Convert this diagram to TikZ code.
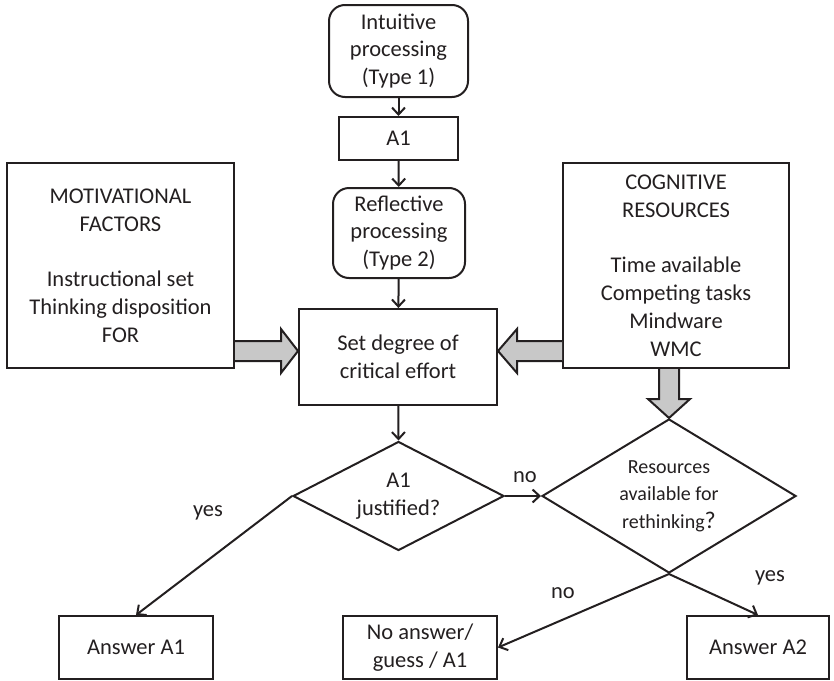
\documentclass[tikz,border=0pt]{standalone}
\usepackage{fontspec}
\setmainfont{Carlito}
\usetikzlibrary{arrows.meta,shapes.geometric}
\definecolor{ink}{HTML}{231F20}
\definecolor{arrowgray}{HTML}{C8C8C8}
\tikzset{
  box/.style={draw=ink, line width=2pt, text=ink, align=center, inner sep=0pt,
    font=\fontsize{22.5}{27.8}\selectfont},
  rbox/.style={box, rounded corners=16pt},
  decision/.style={draw=ink, line width=2pt, diamond, inner sep=0pt},
  dtext/.style={text=ink, align=center, inner sep=0pt, font=\fontsize{22.5}{27.8}\selectfont},
  lbl/.style={text=ink, inner sep=0pt, font=\fontsize{22.5}{27.8}\selectfont},
  conn/.style={draw=ink, line width=2pt, -{Straight Barb[length=7pt,width=13pt]}},
  blockarrow/.style={draw=ink, line width=2pt, fill=arrowgray, line join=miter},
}
\begin{document}
\begin{tikzpicture}[x=1pt,y=-1pt]
\useasboundingbox (0,0) rectangle (834,680);

\node[rbox, minimum width=139pt, minimum height=92pt] (intu) at (398.5,51) {Intuitive\\processing\\(Type 1)};
\node[box, minimum width=119pt, minimum height=43pt] (a1) at (398.5,138.5) {A1};
\node[rbox, minimum width=132pt, minimum height=90pt] (refl) at (399,233) {Reflective\\processing\\(Type 2)};
\node[box, minimum width=198pt, minimum height=96pt] (sd) at (398,357) {Set degree of\\critical effort};

\node[box, minimum width=227pt, minimum height=205pt] (mot) at (120.5,265.5) {MOTIVATIONAL\\FACTORS\\[27.8pt]Instructional set\\Thinking disposition\\FOR};
\node[box, minimum width=226pt, minimum height=205pt] (cog) at (676,265.5) {COGNITIVE\\RESOURCES\\[27.8pt]Time available\\Competing tasks\\Mindware\\WMC};

\node[decision, minimum width=211pt, minimum height=109pt] (a1d) at (398.5,496) {};
\node[dtext] (a1dt) at (a1d.center) {A1\\justified?};
\node[decision, minimum width=254pt, minimum height=154pt] (res) at (669,496) {};
\node[dtext, font=\fontsize{20}{27.5}\selectfont] (rest) at (res.center) {Resources\\available for\\rethinking\fontsize{24}{27.5}\selectfont?};

\node[box, minimum width=154pt, minimum height=63pt] (ans1) at (136,647.5) {Answer A1};
\node[box, minimum width=154pt, minimum height=63pt] (noans) at (420,647.5) {No answer/\\guess / A1};
\node[box, minimum width=142pt, minimum height=63pt] (ans2) at (758,647.5) {Answer A2};

% connectors
\draw[conn] (intu) -- (a1);
\draw[conn] (a1) -- (refl);
\draw[conn] (refl) -- (sd);
\draw[conn] (sd) -- (a1d.north);
\draw[conn] (a1d.east) -- (res.west);
\draw[conn] (a1d.west) -- (ans1.north);
\draw[conn] (res.south) -- (ans2.north);
\draw[conn] (res.south) -- (noans.east);

% labels
\node[lbl] (lno1) at (525,477) {no};
\node[lbl] (lyes1) at (208,513) {yes};
\node[lbl] (lno2) at (563,593) {no};
\node[lbl] (lyes2) at (770,578) {yes};

% block arrows
\draw[blockarrow] (mot.east |- 0,341) -- (281,341) -- (281,329) -- (sd.west |- 0,351)
  -- (281,373) -- (281,361) -- (mot.east |- 0,361);
\draw[blockarrow] (cog.west |- 0,341) -- (517,341) -- (517,329) -- (sd.east |- 0,351)
  -- (517,373) -- (517,361) -- (cog.west |- 0,361);
\draw[blockarrow] (659,0 |- cog.south) -- (659,399) -- (648,399) -- (res.north)
  -- (690,399) -- (679,399) -- (679,0 |- cog.south);
\end{tikzpicture}
\end{document}
